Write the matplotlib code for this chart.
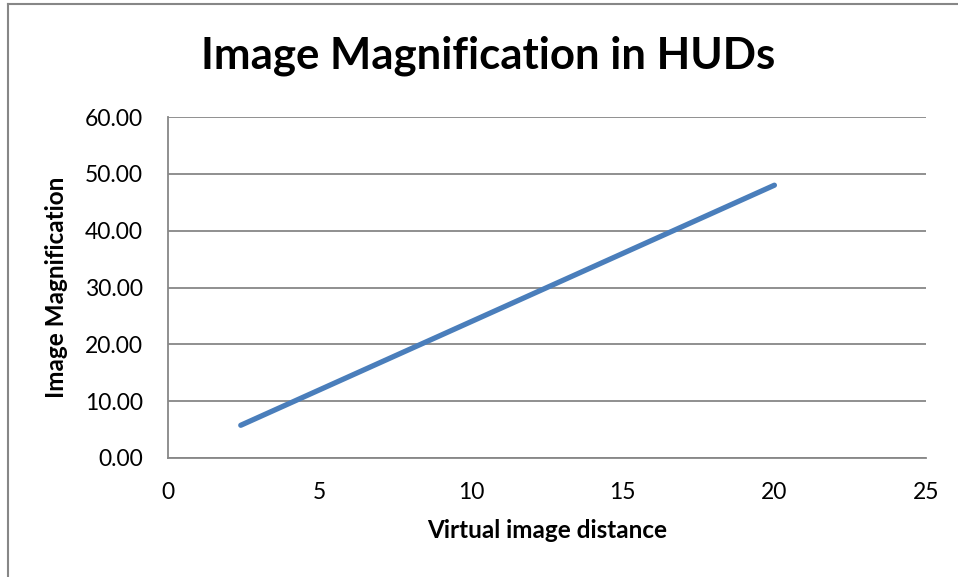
import matplotlib
matplotlib.use("Agg")
import matplotlib.pyplot as plt

plt.rcParams['font.family'] = ['Lato', 'DejaVu Sans']

distance = [2.4, 5, 10, 15, 20]
magnification = [5.76, 12.0, 24.0, 36.0, 48.0]
yticks = [0, 10, 20, 30, 40, 50, 60]
xticks = [0, 5, 10, 15, 20, 25]

W, H = 958, 577
fig = plt.figure(figsize=(W/100, H/100), dpi=100)
fig.patch.set_facecolor('white')

# outer chart border (left and top visible)
fig.add_artist(plt.Line2D([8/W, 8/W], [0, 1 - 4/H], transform=fig.transFigure, color='#878787', lw=1.5))
fig.add_artist(plt.Line2D([8/W, 1], [1 - 4/H, 1 - 4/H], transform=fig.transFigure, color='#878787', lw=1.5))

left, right, top, bottom = 168, 926, 117, 458
ax = fig.add_axes([left/W, 1 - bottom/H, (right-left)/W, (bottom-top)/H])
ax.plot(distance, magnification, color='#4A7EBB', lw=3.8, solid_capstyle='round')
ax.set_xlim(0, 25)
ax.set_ylim(0, 60)
ax.set_xticks(xticks)
ax.set_yticks(yticks)
ax.set_yticklabels([f"{v:.2f}" for v in yticks])
ax.grid(axis='y', color='#878787', lw=1.3)
ax.set_axisbelow(True)
for s in ['top', 'right']:
    ax.spines[s].set_visible(False)
for s in ['left', 'bottom']:
    ax.spines[s].set_color('#878787')
    ax.spines[s].set_linewidth(1.3)
ax.tick_params(length=0, labelsize=16.5)
ax.tick_params(axis='x', pad=17)
ax.tick_params(axis='y', pad=18)
ax.set_xlabel('Virtual image distance', fontsize=17.5, fontweight='bold', labelpad=12)
ax.set_ylabel('Image Magnification', fontsize=17.5, fontweight='bold', labelpad=12)
fig.text(488/W, 1 - 56/H, 'Image Magnification in HUDs', fontsize=31.5, fontweight='bold', ha='center', va='center')

fig.savefig('out.png', dpi=100)
